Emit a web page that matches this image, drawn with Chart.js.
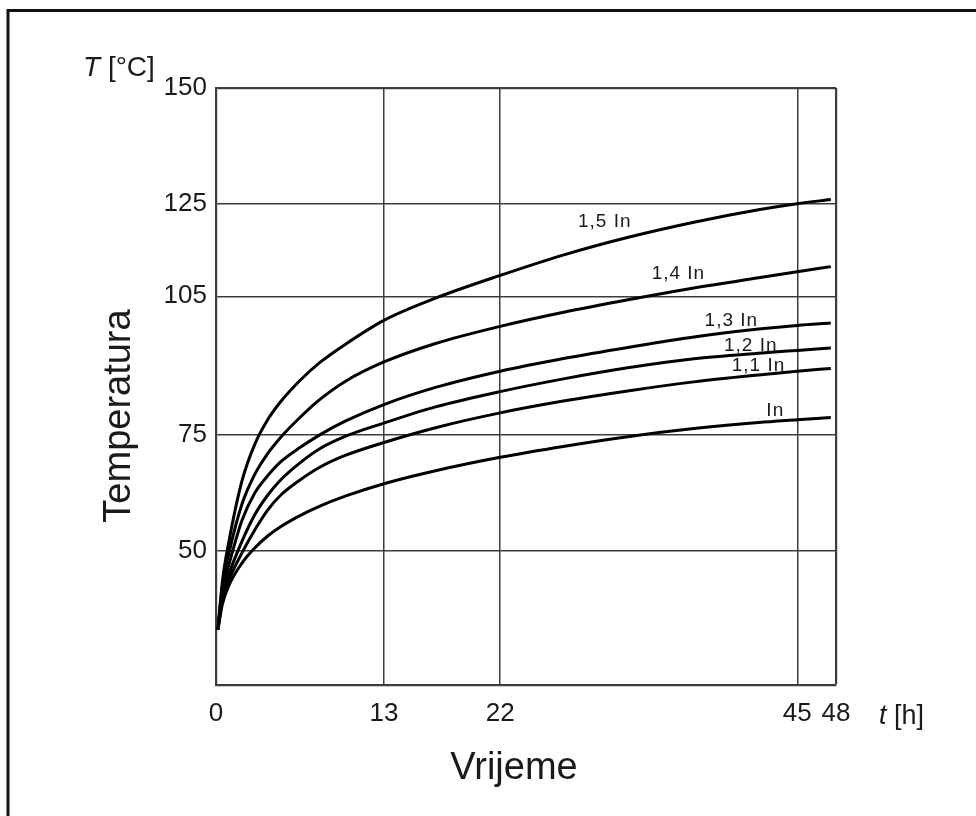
<!DOCTYPE html>
<html>
<head>
<meta charset="utf-8">
<title>Temperatura - Vrijeme</title>
<script src="https://cdn.jsdelivr.net/npm/chart.js@4.4.1/dist/chart.umd.min.js"></script>
<style>
  html, body { margin: 0; padding: 0; background: #fff; }
  #wrap { width: 976px; height: 816px; }
</style>
</head>
<body>
<div id="wrap"><canvas id="tempChart" width="976" height="816"></canvas></div>
<script>
// hours on the x axis, temperatures in °C for each load current
var hours = [0.15, 0.5, 1, 2, 3, 4, 5, 6.5, 8, 10, 13, 17, 22, 27, 32, 37, 42, 45, 47.6];
var temp15 = [33, 43.5, 52, 65, 73, 78.3, 82.2, 86.8, 90.6, 94.6, 99.8, 104.6, 109.5, 114, 117.8, 121, 123.7, 125, 125.9];
var temp14 = [33, 42.5, 49.5, 60, 66.5, 71, 74.5, 78.8, 82.6, 86.6, 90.8, 94.8, 98.5, 101.6, 104.3, 106.8, 109, 110.3, 111.4];
var temp13 = [33, 41.5, 47, 56.5, 62.5, 66.2, 69.2, 72.3, 75, 78, 81.6, 85.3, 88.8, 91.6, 94, 96.2, 97.9, 98.7, 99.2];
var temp12 = [33, 40.5, 45, 52, 57.8, 62, 65.3, 69, 72, 74.7, 77.6, 81.1, 84.4, 87.2, 89.6, 91.5, 92.7, 93.3, 93.8];
var temp11 = [33, 39.5, 43.7, 49.5, 54.5, 58.8, 62, 65.3, 68, 70.6, 73.4, 76.6, 79.8, 82.4, 84.6, 86.5, 88, 88.8, 89.4];
var tempIn = [33, 38.5, 42.5, 47.3, 50.6, 53.2, 55.2, 57.6, 59.6, 61.8, 64.5, 67.3, 70.2, 72.6, 74.7, 76.4, 77.7, 78.3, 78.8];

var seriesNames = ['1,5 In', '1,4 In', '1,3 In', '1,2 In', '1,1 In', 'In'];
var seriesValues = [temp15, temp14, temp13, temp12, temp11, tempIn];

var xTicks = [0, 13, 22, 45, 48];
var yTicks = [50, 75, 105, 125, 150];

var fontFamily = '"Liberation Sans", Arial, Helvetica, sans-serif';
var lineGrey = '#3c3c3c';

// small plugin: page frame and free standing texts
var decorations = {
  id: 'decorations',
  beforeDraw: function(chart) {
    var ctx = chart.ctx;
    ctx.save();
    ctx.fillStyle = '#fff';
    ctx.fillRect(0, 0, chart.width, chart.height);
    ctx.strokeStyle = '#111';
    ctx.lineWidth = 3;
    ctx.strokeRect(8, 10.5, 1200, 1200);
    ctx.restore();
  },
  afterDraw: function(chart) {
    var ctx = chart.ctx;
    ctx.save();
    ctx.fillStyle = '#1a1a1a';
    ctx.textBaseline = 'alphabetic';
    ctx.textAlign = 'left';

    // T [°C]
    ctx.font = 'italic 28px ' + fontFamily;
    ctx.fillText('T', 83, 76);
    var w = ctx.measureText('T').width;
    ctx.font = '28px ' + fontFamily;
    ctx.fillText(' [°C]', 83 + w, 76);

    // t [h]
    ctx.font = 'italic 27px ' + fontFamily;
    ctx.fillText('t', 879, 724);
    w = ctx.measureText('t').width;
    ctx.font = '27px ' + fontFamily;
    ctx.fillText(' [h]', 879 + w, 724);

    // axis titles
    ctx.font = '38px ' + fontFamily;
    ctx.textAlign = 'center';
    ctx.fillText('Vrijeme', 514, 779);

    ctx.translate(130, 416);
    ctx.rotate(-Math.PI / 2);
    ctx.fillText('Temperatura', 0, 0);
    ctx.restore();
  }
};

// names written next to each curve, placed in data units
var curveLabels = {
  id: 'curveLabels',
  afterDatasetsDraw: function(chart, args, opts) {
    var ctx = chart.ctx;
    var xs = chart.scales.x;
    var ys = chart.scales.y;
    ctx.save();
    ctx.font = opts.font;
    ctx.fillStyle = opts.color;
    if ('letterSpacing' in ctx) ctx.letterSpacing = opts.spacing;
    ctx.textAlign = 'center';
    ctx.textBaseline = 'middle';
    opts.items.forEach(function(item, i) {
      ctx.fillText(seriesNames[i], xs.getPixelForValue(item[0]), ys.getPixelForValue(item[1]));
    });
    ctx.restore();
  }
};

var datasets = seriesValues.map(function(values, i) {
  return {
    label: seriesNames[i],
    data: hours.map(function(h, k) { return { x: h, y: values[k] }; }),
    showLine: true,
    borderColor: '#000',
    borderWidth: 3,
    pointRadius: 0,
    cubicInterpolationMode: 'monotone',
    fill: false
  };
});

var ctx = document.getElementById('tempChart').getContext('2d');
var tempChart = new Chart(ctx, {
  type: 'scatter',
  data: { datasets: datasets },
  plugins: [decorations, curveLabels],
  options: {
    responsive: false,
    animation: false,
    layout: { padding: { left: 0, right: 140, top: 88, bottom: 0 } },
    plugins: {
      legend: { display: false },
      tooltip: { enabled: false },
      curveLabels: {
        font: '19px ' + fontFamily,
        spacing: '1px',
        color: '#1a1a1a',
        items: [[30.1, 121], [35.8, 109.9], [39.9, 99.6], [41.4, 94.4], [42.0, 90], [43.3, 80.2]]
      }
    },
    scales: {
      x: {
        type: 'linear',
        min: 0,
        max: 48,
        afterBuildTicks: function(scale) {
          scale.ticks = xTicks.map(function(v) { return { value: v }; });
        },
        afterFit: function(scale) { scale.height = 131; },
        grid: {
          color: lineGrey,
          lineWidth: function(c) { return c.tick && c.tick.value === 48 ? 2.2 : 1.5; },
          drawTicks: false
        },
        border: { color: lineGrey, width: 2.2 },
        ticks: {
          autoSkip: false,
          maxRotation: 0,
          padding: 13,
          color: '#1a1a1a',
          font: { family: fontFamily, size: 26 }
        }
      },
      y: {
        type: 'linear',
        min: 21,
        max: 150,
        afterBuildTicks: function(scale) {
          scale.ticks = yTicks.map(function(v) { return { value: v }; });
        },
        afterFit: function(scale) { scale.width = 216; },
        grid: {
          color: lineGrey,
          lineWidth: function(c) { return c.tick && c.tick.value === 150 ? 2.2 : 1.5; },
          drawTicks: false
        },
        border: { color: lineGrey, width: 2.2 },
        ticks: {
          autoSkip: false,
          padding: 9,
          color: '#1a1a1a',
          font: { family: fontFamily, size: 26 }
        }
      }
    }
  }
});
</script>
</body>
</html>
